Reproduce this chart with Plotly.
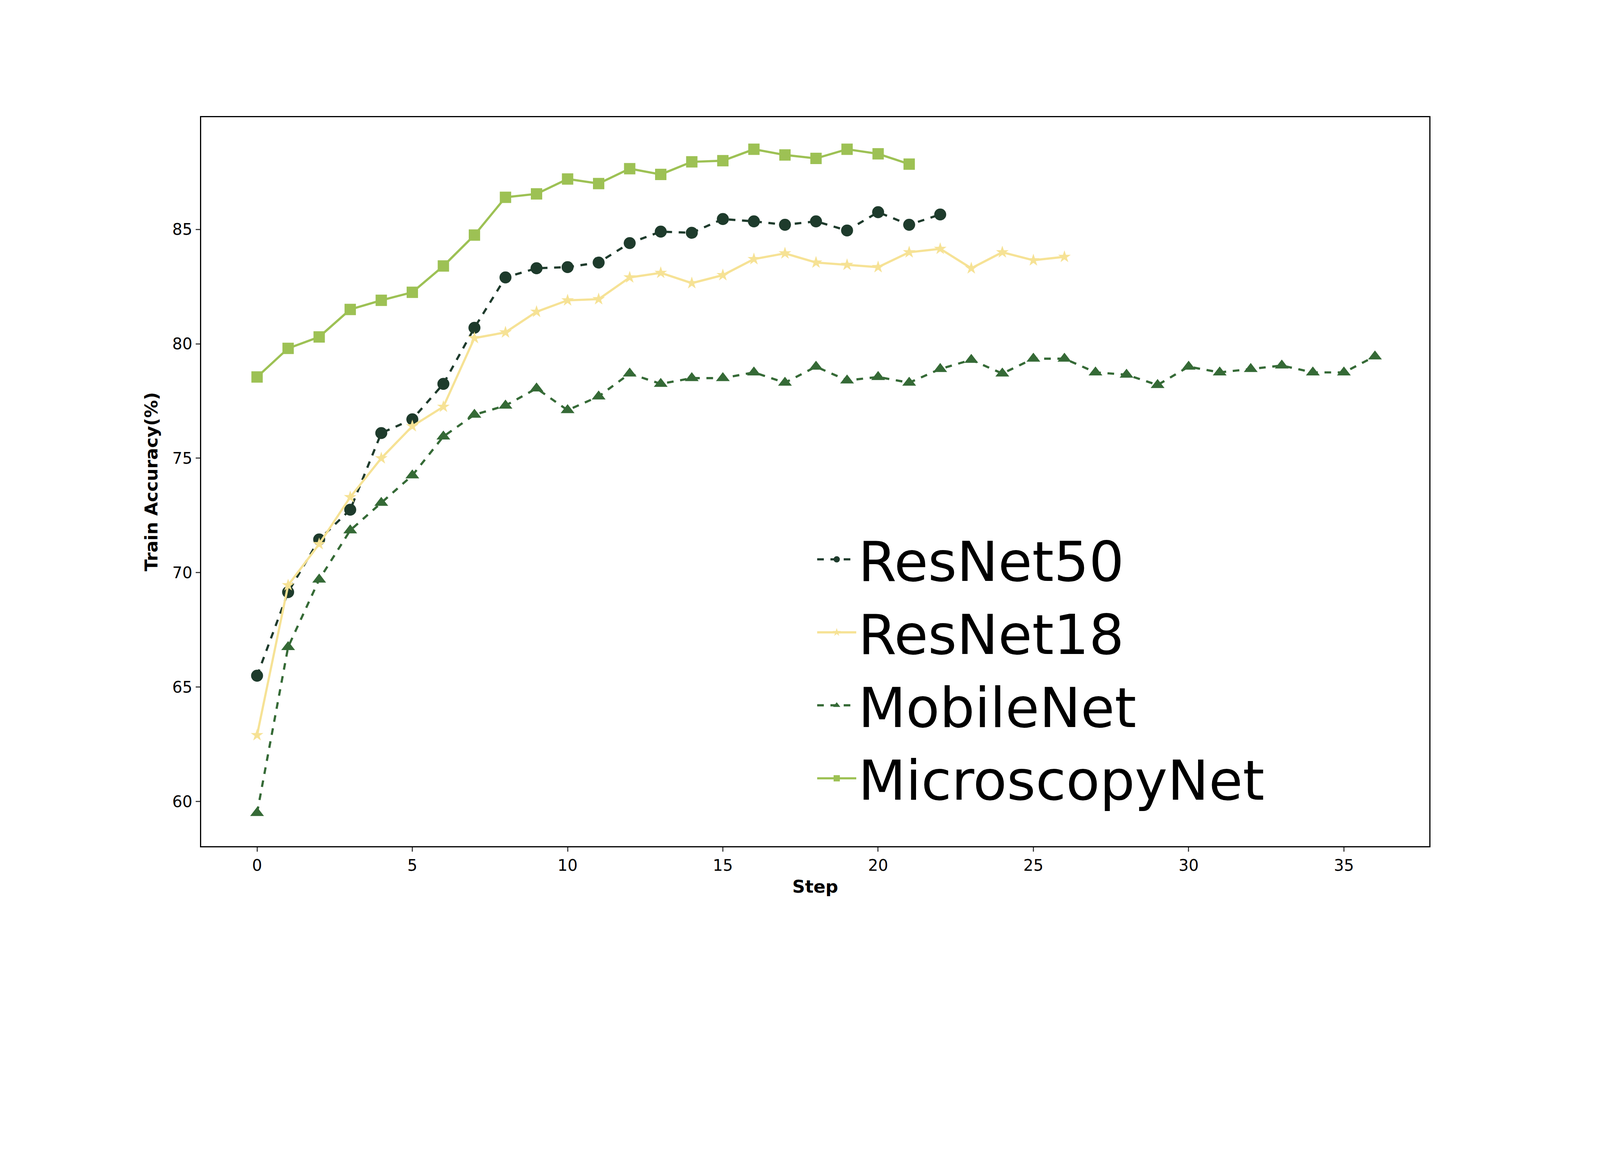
import plotly.graph_objects as go

resnet50 = [65.5,69.15,71.45,72.75,76.1,76.7,78.25,80.7,82.9,83.3,83.35,83.55,84.4,84.9,84.85,85.45,85.35,85.2,85.35,84.95,85.75,85.2,85.65]
resnet18 = [62.9,69.45,71.25,73.3,75.0,76.4,77.25,80.25,80.5,81.4,81.9,81.95,82.9,83.1,82.65,83.0,83.7,83.95,83.55,83.45,83.35,84.0,84.15,83.3,84.0,83.65,83.8]
mobilenet = [59.5,66.75,69.7,71.85,73.05,74.25,75.95,76.9,77.3,78.05,77.1,77.7,78.7,78.25,78.5,78.5,78.75,78.3,79.0,78.4,78.55,78.3,78.9,79.3,78.7,79.35,79.35,78.75,78.65,78.2,79.0,78.75,78.9,79.05,78.75,78.75,79.45]
microscopynet = [78.55,79.8,80.3,81.5,81.9,82.25,83.4,84.75,86.4,86.55,87.2,87.0,87.65,87.4,87.95,88.0,88.5,88.25,88.1,88.5,88.3,87.85]

S = 0.808  # the page renders at ~1.237x, compensate

series = [
    ("ResNet50", resnet50, "#1e3b2c", "dash", "circle", 38),
    ("ResNet18", resnet18, "#f6e295", "solid", "star", 30),
    ("MobileNet", mobilenet, "#356a36", "dash", "triangle-up", 38),
    ("MicroscopyNet", microscopynet, "#9dc154", "solid", "square", 36),
]

fig = go.Figure()
for name, ys, c, dash, sym, ms in series:
    fig.add_trace(go.Scatter(x=list(range(len(ys))), y=ys, name=name, mode="lines+markers",
                             line=dict(color=c, width=7 * S, dash=dash),
                             marker=dict(symbol=sym, size=ms * S, color=c)))

ax = dict(showgrid=False, zeroline=False, showline=True, mirror=True, linecolor="black", linewidth=4 * S,
          ticks="outside", ticklen=14 * S, tickwidth=4 * S, tickfont=dict(size=50 * S, color="black"))
fig.update_layout(
    width=round(5000 * S), height=round(3000 * S), plot_bgcolor="white", paper_bgcolor="white",
    font=dict(family="DejaVu Sans", color="black"),
    margin=dict(l=628 * S, r=481 * S, t=362 * S, b=329 * S),
    xaxis=dict(range=[-1.8, 37.75], tickvals=[0,5,10,15,20,25,30,35],
               title=dict(text="<b>Step</b>", font=dict(size=56 * S), standoff=20 * S), **ax),
    yaxis=dict(range=[58.05, 89.9], tickvals=[60,65,70,75,80,85],
               title=dict(text="<b>Train Accuracy(%)</b>", font=dict(size=56 * S), standoff=30 * S), **ax),
    legend=dict(x=0.5, y=0.04, xanchor="left", yanchor="bottom", font=dict(size=175 * S),
                bgcolor="rgba(0,0,0,0)", itemwidth=100, tracegroupgap=0),
)
fig.write_html("out.html")
